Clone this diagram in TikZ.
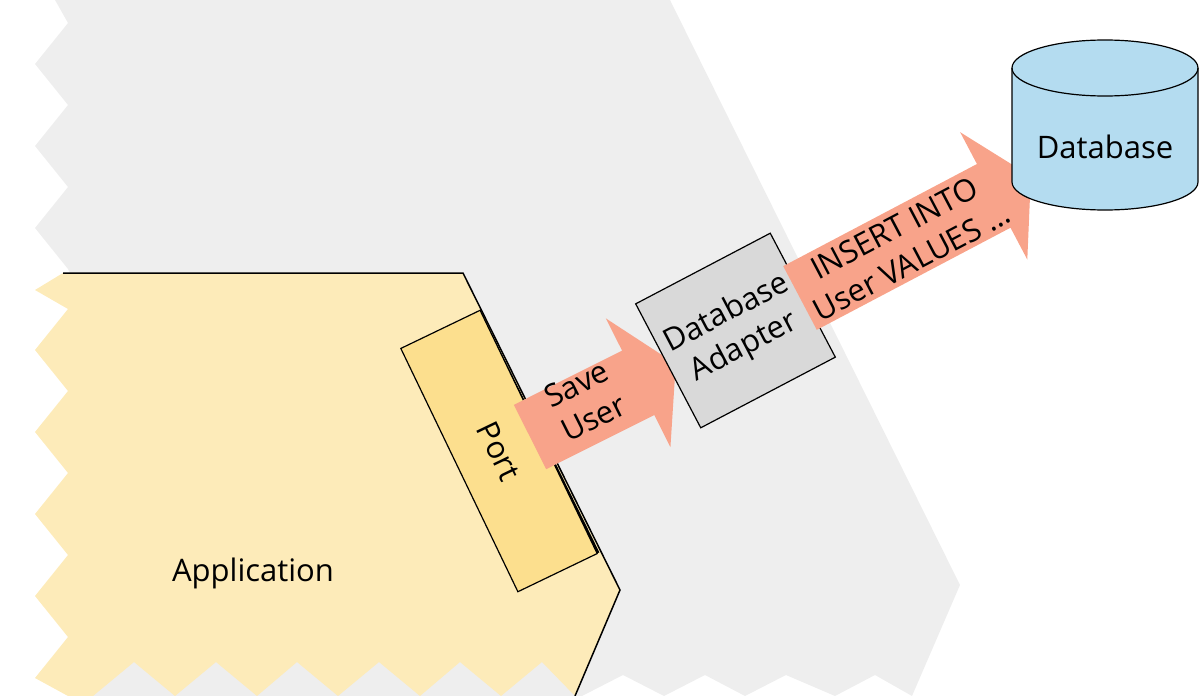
\documentclass[tikz,border=0pt]{standalone}
\usepackage{fontspec}
\setmainfont{Open Sans}
\definecolor{hexgrey}{HTML}{EEEEEE}
\definecolor{appyellow}{HTML}{FDEBB9}
\definecolor{portyellow}{HTML}{FCDF8E}
\definecolor{adaptgrey}{HTML}{D9D9D9}
\definecolor{salmon}{HTML}{F8A38A}
\definecolor{dbblue}{HTML}{B4DCF0}
\tikzset{
  lbl/.style={font=\fontsize{31}{38}\selectfont, align=center, inner sep=0pt},
  box/.style={draw, line width=1.2pt, align=center, font=\fontsize{31}{38}\selectfont}
}
\newcommand{\fatarrow}[3]{% tail, angle, length
  \begin{scope}[shift={(#1)}, rotate=#2]
    \fill[salmon] (0,-36) -- ({#3-42},-36) -- ({#3-42},-72) -- (#3,0)
      -- ({#3-42},72) -- ({#3-42},36) -- (0,36) -- cycle;
  \end{scope}
}
\begin{document}
\begin{tikzpicture}[x=1pt, y=-1pt]
  \useasboundingbox (0,0) rectangle (1200,696);
  % outer hexagon
  \fill[hexgrey] (60,0) -- (670,0) -- (960,585) -- (912,696)
    -- (875,675) -- (835,696) -- (786,675) -- (745,696) -- (705,675)
    -- (664,696) -- (623,675) -- (582,696) -- (70,696) -- (70,273)
    -- (68,269) -- (35,228) -- (68,187) -- (35,146) -- (68,105)
    -- (35,64) -- (68,23) -- (55,0) -- cycle;
  % application
  \fill[appyellow] (63,273) -- (463,273) -- (620,590) -- (575,696)
    -- (542,662) -- (501,696) -- (460,662) -- (420,696) -- (379,662)
    -- (338,696) -- (297,662) -- (257,696) -- (216,662) -- (175,696)
    -- (134,662) -- (93,696) -- (68,696) -- (35,678) -- (68,637)
    -- (35,596) -- (68,555) -- (35,514) -- (68,473) -- (35,432)
    -- (68,391) -- (35,350) -- (68,309) -- (35,290) -- cycle;
  \draw[line width=1.5pt] (63,273) -- (463,273) -- (620,590) -- (575,696);
  \draw[line width=3pt] (479,311) -- (598,553);
  \node[lbl] (app) at (253,573) {Application};
  \node[box, fill=portyellow, rotate=-64.3, minimum width=270, minimum height=88] (port) at (499,451) {Port};
  % arrows
  \fatarrow{530,437}{26.6}{163}
  \node[lbl, rotate=26.6] (save) at (585,401) {Save\\User};
  \node[box, fill=adaptgrey, rotate=27.7, minimum width=152, minimum height=140, inner sep=0pt] (adapter) at (735.5,330.5) {Database\\Adapter};
  \fatarrow{800,298}{27.8}{261}
  \node[lbl, rotate=27.8] (insert) at (903,245) {INSERT INTO\\User VALUES ...};
  % database cylinder
  \filldraw[fill=dbblue, line width=1.2pt] (1012,68) -- (1012,182)
    arc[start angle=180, end angle=0, x radius=93, y radius=28]
    -- (1198,68) arc[start angle=0, end angle=-180, x radius=93, y radius=28] -- cycle;
  \draw[line width=1.2pt] (1012,68) arc[start angle=180, end angle=0, x radius=93, y radius=28];
  \node[lbl] (db) at (1105,147) {Database};
\end{tikzpicture}
\end{document}
